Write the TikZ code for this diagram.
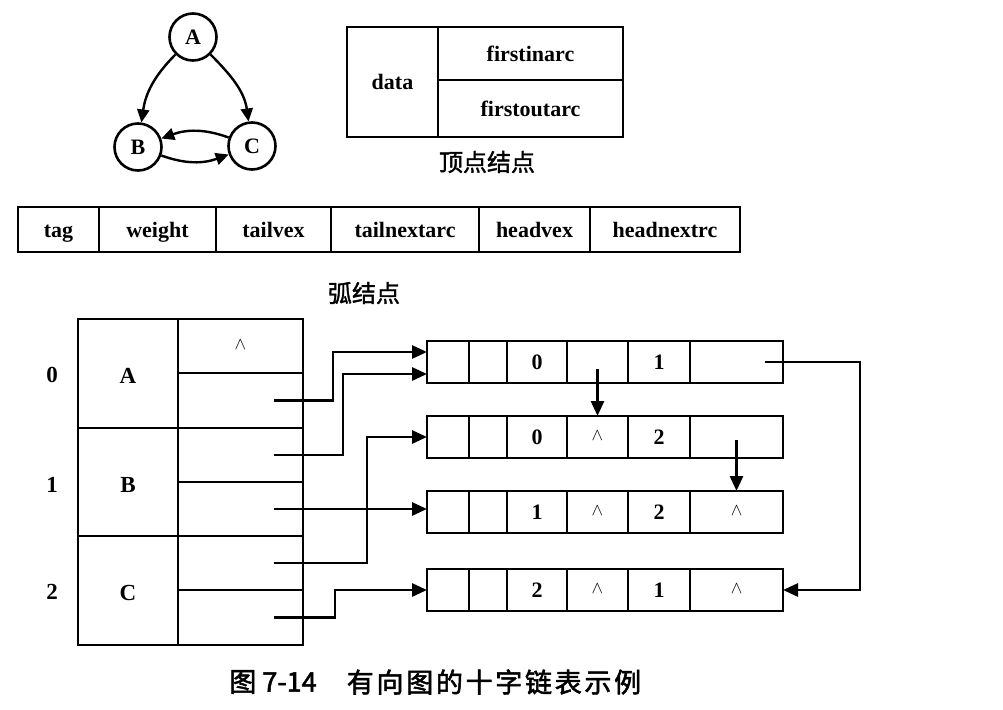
\documentclass[tikz,border=0pt]{standalone}
\usepackage{fontspec}
\setmainfont{Liberation Serif}
\newfontfamily\cjk[AutoFakeBold=1.5]{Noto Sans CJK SC}
\newfontfamily\capfont[LetterSpace=10,AutoFakeBold=2]{Noto Sans CJK SC}
\newfontfamily\capnum[AutoFakeBold=2]{Noto Sans CJK SC}
\usetikzlibrary{arrows.meta,calc}
\newcommand\nullsym{\raisebox{4pt}{\fontsize{16}{16}\selectfont$\wedge$}}
\newcommand\arcrow[6]{%
 \node[abox, minimum width=42pt] (r#1c1) at (427,#2) {};
 \node[abox, minimum width=38pt] (r#1c2) at (469,#2) {};
 \node[abox, minimum width=60pt] (r#1c3) at (507,#2) {#3};
 \node[abox, minimum width=61pt] (r#1c4) at (567,#2) {#4};
 \node[abox, minimum width=62pt] (r#1c5) at (628,#2) {#5};
 \node[abox, minimum width=93pt] (r#1c6) at (690,#2) {#6};}
\begin{document}
\begin{tikzpicture}[x=1pt,y=-1pt,
 cellbox/.style={draw, line width=2.8pt, inner sep=0pt, outer sep=0pt, anchor=north west},
 txt/.style={font=\fontsize{22}{24}\selectfont\bfseries, text height=17pt, text depth=2pt},
 fld/.style={cellbox, txt, minimum height=45pt},
 abox/.style={cellbox, txt, minimum height=42pt},
 tcell/.style={cellbox, txt, minimum width=125pt},
 vcell/.style={cellbox, minimum width=100pt, font=\fontsize{23}{25}\selectfont\bfseries, text height=20pt, text depth=0pt},
 lbl/.style={font=\fontsize{23}{25}\selectfont\bfseries},
 vtx/.style={circle, draw, line width=2.6pt, minimum size=47pt, inner sep=0pt, font=\fontsize{22}{24}\selectfont\bfseries},
 garc/.style={line width=2.4pt, -{Triangle[length=13pt,width=12pt]}},
 ptr/.style={line width=2.8pt, -{Triangle[length=15pt,width=13pt]}},
 cjkcap/.style={font=\cjk\bfseries\fontsize{24}{26}\selectfont}]
\useasboundingbox (0,0) rectangle (1003,709);

% small graph
\node[vtx] (gA) at (193,37) {A};
\node[vtx] (gB) at (138,147) {B};
\node[vtx] (gC) at (252,146) {C};
\draw[garc] (gA) to[out=225,in=82] (gB);
\draw[garc] (gA) to[out=-45,in=98] (gC);
\draw[garc] (gC) to[out=160,in=20] (gB);
\draw[garc] (gB) to[out=-20,in=-160] (gC);

% vertex node format
\node[cellbox, txt, minimum width=91pt, minimum height=110pt] (fdata) at (347,27) {data};
\node[cellbox, txt, minimum width=185pt, minimum height=53pt] (fin) at (438,27) {firstinarc};
\node[cellbox, txt, minimum width=185pt, minimum height=57pt] (fout) at (438,80) {firstoutarc};
\node[cjkcap] (vcap) at (487,162) {顶点结点};

% arc node format
\node[fld, minimum width=81pt] (ftag) at (18,207) {tag};
\node[fld, minimum width=117pt] (fweight) at (99,207) {weight};
\node[fld, minimum width=115pt] (ftailvex) at (216,207) {tailvex};
\node[fld, minimum width=148pt] (ftailnext) at (331,207) {tailnextarc};
\node[fld, minimum width=111pt] (fheadvex) at (479,207) {headvex};
\node[fld, minimum width=150pt] (fheadnext) at (590,207) {headnextrc};
\node[cjkcap] (ecap) at (364,293) {弧结点};

% vertex table
\node[lbl] (n0) at (52,375) {0};
\node[lbl] (n1) at (52,485) {1};
\node[lbl] (n2) at (52,592) {2};
\node[vcell, minimum height=109pt] (vA) at (78,319) {A};
\node[vcell, minimum height=108pt] (vB) at (78,428) {B};
\node[vcell, minimum height=109pt] (vC) at (78,536) {C};
\node[tcell, minimum height=54pt] (iA) at (178,319) {\nullsym};
\node[tcell, minimum height=55pt] (oA) at (178,373) {};
\node[tcell, minimum height=54pt] (iB) at (178,428) {};
\node[tcell, minimum height=54pt] (oB) at (178,482) {};
\node[tcell, minimum height=54pt] (iC) at (178,536) {};
\node[tcell, minimum height=55pt] (oC) at (178,590) {};

% arc nodes
\arcrow{1}{341}{0}{}{1}{}
\arcrow{2}{416}{0}{\nullsym}{2}{}
\arcrow{3}{491}{1}{\nullsym}{2}{\nullsym}
\arcrow{4}{569}{2}{\nullsym}{1}{\nullsym}

% pointers from vertex table
\draw[ptr] ($(oA.center)+(33,0)$) -| ($(r1c1.west)+(-94,-10)$) -- ($(r1c1.west)+(0,-10)$);
\draw[ptr] ($(iB.center)+(33,0)$) -| ($(r1c1.west)+(-84,12)$) -- ($(r1c1.west)+(0,12)$);
\draw[ptr] ($(oB.center)+(33,0)$) -- (r3c1.west |- oB.center);
\draw[ptr] ($(iC.center)+(33,0)$) -| ($(r2c1.west)+(-60,0)$) -- (r2c1.west);
\draw[ptr] ($(oC.center)+(33,0)$) -| ($(r4c1.west)+(-92,0)$) -- (r4c1.west);

% pointers between arc nodes
\draw[ptr] ($(r1c4.center)+(0,7)$) -- (r2c4.north);
\draw[ptr] ($(r2c6.center)+(0,3)$) -- (r3c6.north);
\draw[ptr] ($(r1c6.center)+(28,0)$) -| ($(r4c6.east)+(77,0)$) -- (r4c6.east);

% caption
\node[font=\capnum\bfseries\fontsize{27}{30}\selectfont] (cap1) at (273,682) {图 7-14};
\node[font=\capfont\bfseries\fontsize{27}{30}\selectfont] (cap2) at (494,682) {有向图的十字链表示例};
\end{tikzpicture}
\end{document}
